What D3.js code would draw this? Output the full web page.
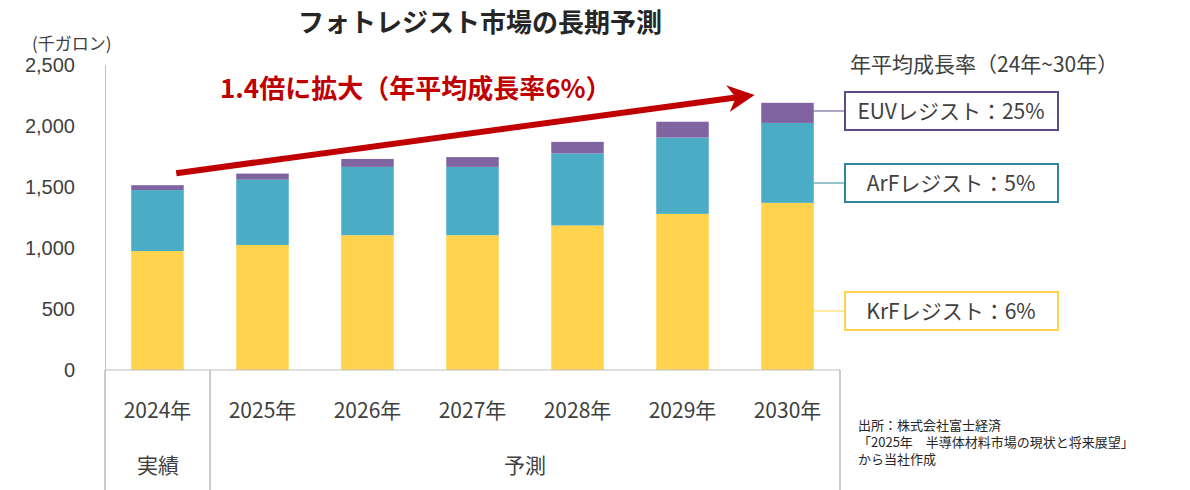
<!DOCTYPE html>
<html><head><meta charset="utf-8">
<script src="https://cdn.jsdelivr.net/npm/d3@7"></script>
<style>body{margin:0;background:#fff;font-family:"Noto Sans CJK JP","Noto Sans",sans-serif;}</style>
</head><body><div id="chart"></div>
<script>
const years = ['2024年', '2025年', '2026年', '2027年', '2028年', '2029年', '2030年'];
const krf = [975, 1025, 1105, 1105, 1185, 1280, 1370];
const arf = [500, 535, 560, 560, 590, 625, 655];
const euv = [40, 50, 65, 80, 95, 130, 165];
const yTicks = [0, 500, 1000, 1500, 2000, 2500];
const series = [
  {key: 'krf', values: krf, color: '#FFD34E', label: 'KrFレジスト：6%', stroke: '#FFD34E'},
  {key: 'arf', values: arf, color: '#4BACC6', label: 'ArFレジスト：5%', stroke: '#31859C'},
  {key: 'euv', values: euv, color: '#8064A2', label: 'EUVレジスト：25%', stroke: '#5F4B8B'},
];

const W = 1190, H = 490;
const svg = d3.select('#chart').append('svg').attr('width', W).attr('height', H)
  .style('font-family', '"Noto Sans CJK JP", sans-serif');

const x = d3.scaleBand().domain(years).range([105, 840]).paddingInner(0.5).paddingOuter(0.25);
const y = d3.scaleLinear().domain([0, 2500]).range([370, 65]);

svg.append('g').attr('transform', 'translate(105,0)')
  .call(d3.axisLeft(y).tickValues(yTicks).tickFormat(d3.format(',')).tickSize(0).tickPadding(30))
  .call(g => g.select('.domain').attr('stroke', '#bfbfbf'))
  .call(g => g.selectAll('text').attr('font-size', 20).attr('fill', '#404040'));

// stacked bars
const stack = years.map((yr, i) => {
  let base = 0;
  return series.map(s => { const r = {yr, y0: base, y1: base + s.values[i], color: s.color}; base += s.values[i]; return r; });
}).flat();
svg.selectAll('rect.bar').data(stack).join('rect').attr('class', 'bar')
  .attr('x', d => x(d.yr)).attr('width', x.bandwidth())
  .attr('y', d => y(d.y1)).attr('height', d => y(d.y0) - y(d.y1))
  .attr('fill', d => d.color);

svg.append('line').attr('x1', 105).attr('x2', 840).attr('y1', 370).attr('y2', 370).attr('stroke', '#bfbfbf');
[105, 210, 840].forEach(px => svg.append('line').attr('x1', px).attr('x2', px).attr('y1', 370).attr('y2', 490).attr('stroke', '#999'));
svg.selectAll('text.yr').data(years).join('text')
  .attr('x', d => x(d) + x.bandwidth() / 2).attr('y', 418).attr('text-anchor', 'middle')
  .attr('font-size', 21).attr('fill', '#404040').text(d => d);
svg.append('text').attr('x', 158).attr('y', 473).attr('text-anchor', 'middle').attr('font-size', 21).attr('fill', '#404040').text('実績');
svg.append('text').attr('x', 525).attr('y', 473).attr('text-anchor', 'middle').attr('font-size', 21).attr('fill', '#404040').text('予測');

svg.append('text').attr('x', 32).attr('y', 50).attr('font-size', 17).attr('fill', '#404040').text('(千ガロン)');
svg.append('text').attr('x', 480).attr('y', 32).attr('text-anchor', 'middle').attr('font-size', 26).attr('font-weight', 'bold').attr('fill', '#262626').text('フォトレジスト市場の長期予測');
svg.append('text').attr('x', 850).attr('y', 72).attr('font-size', 21).attr('fill', '#404040').text('年平均成長率（24年~30年）');

// arrow
const last = years.length - 1;
const total = i => krf[i] + arf[i] + euv[i];
svg.append('defs').append('marker').attr('id', 'ah').attr('viewBox', '0 0 10 10').attr('refX', 5).attr('refY', 5)
  .attr('markerWidth', 4.5).attr('markerHeight', 4.5).attr('orient', 'auto')
  .append('path').attr('d', 'M0,0L10,5L0,10L3,5Z').attr('fill', '#C00000');
svg.append('line').attr('x1', x(years[0]) + 45).attr('y1', y(total(0)) - 12)
  .attr('x2', x(years[last]) - 20).attr('y2', y(total(last)) - 6)
  .attr('stroke', '#C00000').attr('stroke-width', 6).attr('marker-end', 'url(#ah)');
svg.append('text').attr('x', 220).attr('y', 98).attr('font-size', 26).attr('font-weight', 'bold').attr('fill', '#C00000').text('1.4倍に拡大（年平均成長率6%）');

// legend boxes, leader lines at box centre
const bx = x(years[last]) + x.bandwidth();
const boxY = [311, 183, 111];
series.forEach((s, i) => {
  svg.append('line').attr('x1', bx).attr('x2', 845).attr('y1', boxY[i]).attr('y2', boxY[i]).attr('stroke', s.stroke);
  svg.append('rect').attr('x', 845).attr('y', boxY[i] - 19).attr('width', 213).attr('height', 38)
    .attr('fill', '#fff').attr('stroke', s.stroke).attr('stroke-width', 2);
  svg.append('text').attr('x', 951).attr('y', boxY[i] + 8).attr('text-anchor', 'middle').attr('font-size', 21).attr('fill', '#404040').text(s.label);
});

['出所：株式会社富士経済', '「2025年　半導体材料市場の現状と将来展望」', 'から当社作成'].forEach((t, i) =>
  svg.append('text').attr('x', 858).attr('y', 430 + i * 17).attr('font-size', 13).attr('fill', '#262626').text(t));
</script></body></html>
